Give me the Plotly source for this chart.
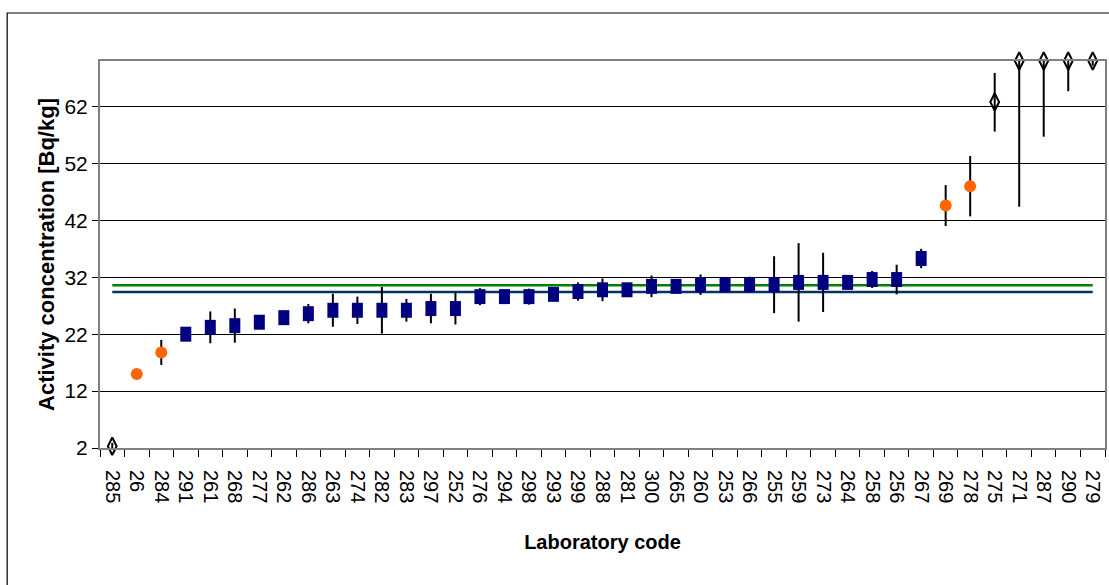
import plotly.graph_objects as go

# Laboratory codes (x categories, in plotted order)
codes = ['285', '26', '284', '291', '261', '268', '277', '262', '286', '263',
         '274', '282', '283', '297', '252', '276', '294', '298', '293', '299',
         '288', '281', '300', '265', '260', '253', '266', '255', '259', '273',
         '264', '258', '256', '267', '269', '278', '275', '271', '287', '290', '279']

# Accepted results (navy squares)
acc_codes = ['291', '261', '268', '277', '262', '286', '263', '274', '282', '283',
             '297', '252', '276', '294', '298', '293', '299', '288', '281', '300',
             '265', '260', '253', '266', '255', '259', '273', '264', '258', '256', '267']
acc_values = [22.0, 23.2, 23.5, 24.1, 24.9, 25.6, 26.2, 26.2, 26.2, 26.2,
              26.5, 26.5, 28.6, 28.6, 28.6, 29.0, 29.5, 29.8, 29.8, 30.4,
              30.4, 30.7, 30.7, 30.7, 30.7, 31.1, 31.1, 31.1, 31.6, 31.6, 35.3]
acc_unc = [0.8, 2.8, 3.0, 0.8, 0.8, 1.7, 2.9, 2.4, 4.1, 2.0,
           2.6, 2.8, 1.5, 1.0, 1.4, 1.0, 1.6, 2.0, 1.0, 1.9,
           1.0, 1.8, 1.0, 1.4, 5.0, 6.9, 5.2, 1.0, 1.5, 2.6, 1.7]

# Warning results (orange circles)
warn_codes = ['26', '284', '269', '278']
warn_values = [15.0, 18.8, 44.6, 48.0]
warn_unc = [0.0, 2.2, 3.6, 5.3]

# Not accepted results (open diamonds)
out_codes = ['285', '275', '271', '287', '290', '279']
out_values = [2.3, 62.8, 70.0, 70.0, 70.0, 70.0]
out_unc_plus = [0.6, 5.1, 0.0, 0.0, 0.0, 0.0]
out_unc_minus = [0.6, 5.2, 25.6, 13.3, 5.3, 0.8]

# Reference lines
target_value = 30.6
robust_mean = 29.4

y_ticks = [2, 12, 22, 32, 42, 52, 62]

fig = go.Figure()

fig.add_trace(go.Scatter(x=[codes[0], codes[-1]], y=[target_value, target_value],
                         mode='lines', line=dict(color='#008000', width=2.5),
                         showlegend=False, hoverinfo='skip'))
fig.add_trace(go.Scatter(x=[codes[0], codes[-1]], y=[robust_mean, robust_mean],
                         mode='lines', line=dict(color='#003366', width=2.5),
                         showlegend=False, hoverinfo='skip'))

err_style = dict(type='data', color='#000000', thickness=2, width=0)

fig.add_trace(go.Scatter(
    x=acc_codes, y=acc_values, mode='markers',
    marker=dict(symbol='line-ns', size=10.7, color='#000080',
                line=dict(color='#000080', width=11)),
    error_y=dict(array=acc_unc, **err_style),
    showlegend=False))

fig.add_trace(go.Scatter(
    x=warn_codes, y=warn_values, mode='markers',
    marker=dict(symbol='circle', size=12, color='#FF6600',
                line=dict(width=0)),
    error_y=dict(array=warn_unc, **err_style),
    showlegend=False))

fig.add_trace(go.Scatter(
    x=out_codes, y=out_values, mode='markers', cliponaxis=False,
    marker=dict(symbol='diamond-tall-open', size=12.5, color='#000000',
                line=dict(color='#000000', width=2)),
    error_y=dict(array=out_unc_plus, arrayminus=out_unc_minus,
                 symmetric=False, **err_style),
    showlegend=False))

# outer chart frame
fig.add_shape(type='rect', xref='paper', yref='paper',
              x0=(7 - 100) / 1007, x1=(1120 - 100) / 1007,
              y0=(448 - 600) / 387, y1=(448 - 13) / 387,
              line=dict(color='#000000', width=1.2), fillcolor='rgba(0,0,0,0)',
              layer='below')

fig.update_layout(
    width=1109, height=585,
    margin=dict(l=100, r=2, t=61, b=137),
    paper_bgcolor='white', plot_bgcolor='white',
    xaxis=dict(
        type='category', categoryorder='array', categoryarray=codes,
        range=[-0.5, len(codes) - 0.5],
        tickangle=90, tickson='boundaries', ticks='outside', ticklen=7,
        tickcolor='#000000', tickwidth=1,
        tickfont=dict(family='Liberation Sans, Arial, sans-serif', size=20, color='#000000'),
        ticklabelstandoff=16,
        showgrid=False, showline=True, linecolor='#808080', linewidth=2, mirror=True,
        title=dict(text='<b>Laboratory code</b>',
                   font=dict(family='Liberation Sans, Arial, sans-serif',
                             size=20, color='#000000'),
                   standoff=33),
    ),
    yaxis=dict(
        range=[2, 70], tickvals=y_ticks, ticktext=[str(v) for v in y_ticks],
        ticks='outside', ticklen=6, tickcolor='#000000',
        tickfont=dict(family='Liberation Sans, Arial, sans-serif', size=21, color='#000000'),
        showgrid=True, gridcolor='#000000', gridwidth=1,
        showline=True, linecolor='#808080', linewidth=2, mirror=True,
        zeroline=False,
        title=dict(text='<b>Activity concentration [Bq/kg]</b>',
                   font=dict(family='Liberation Sans, Arial, sans-serif', size=22, color='#000000'),
                   standoff=4),
    ),
)

fig.write_html('out.html')
